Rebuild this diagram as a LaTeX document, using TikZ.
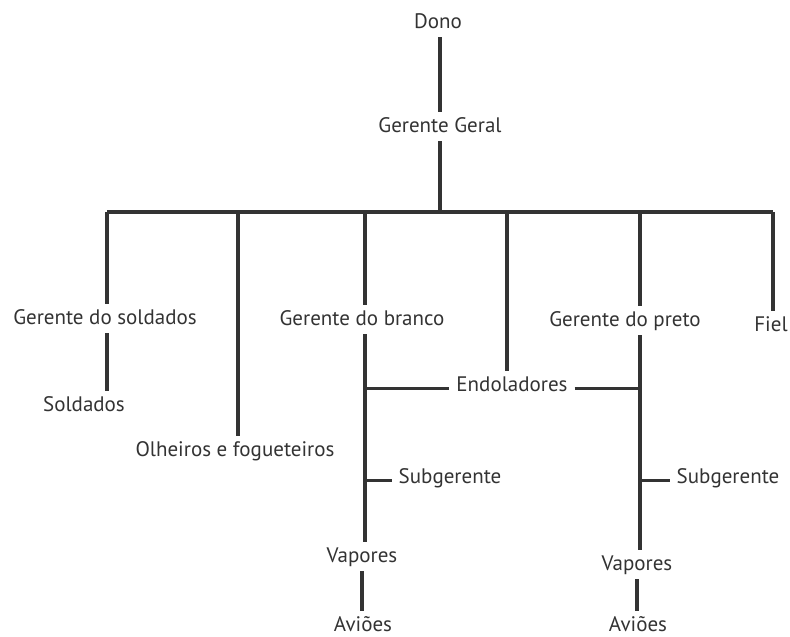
\documentclass[tikz,border=0pt]{standalone}
\usepackage{fontspec}
\setmainfont{PT Sans}
\definecolor{ink}{HTML}{333333}

\begin{document}
\begin{tikzpicture}[x=1pt,y=-1pt,
    lbl/.style={anchor=base,text=ink,font=\fontsize{21}{25}\selectfont,
        text height=15pt,text depth=4pt,inner ysep=5pt,inner xsep=7pt},
    wire/.style={draw=ink,line width=3.6pt}]
                \useasboundingbox (0,0) rectangle (790,637);
                \node[lbl] (dono) at (438,28) {Dono};
                \node[lbl] (geral) at (440,132) {Gerente Geral};
                \node[lbl] (gsold) at (105,324) {Gerente do soldados};
                \node[lbl] (sold) at (84,411) {Soldados};
                \node[lbl] (olh) at (235,456) {Olheiros e fogueteiros};
                \node[lbl] (gbranco) at (362,325) {Gerente do branco};
                \node[lbl] (endol) at (512,391) {Endoladores};
                \node[lbl] (gpreto) at (625,326) {Gerente do preto};
                \node[lbl] (fiel) at (771,331) {Fiel};
                \node[lbl] (sub1) at (450,483) {Subgerente};
                \node[lbl] (sub2) at (728,483) {Subgerente};
                \node[lbl] (vap1) at (362,562) {Vapores};
                \node[lbl] (vap2) at (637,570) {Vapores};
                \node[lbl] (av1) at (363,631) {Aviões};
                \node[lbl] (av2) at (638,631) {Aviões};
                \coordinate (bSold) at (107,212);
                \coordinate (bOlh) at (238,212);
                \coordinate (bBranco) at (365,212);
                \coordinate (bEndol) at (507,212);
                \coordinate (bPreto) at (640,212);
                \coordinate (bFiel) at (773,212);
                \draw[wire] (geral.north |- dono.south) -- (geral.north);
                \draw[wire] (geral.south) -- (geral.south |- bSold);
                \draw[wire] (bSold) -- (bFiel);
                \draw[wire] (bSold) -- (bSold |- gsold.north);
                \draw[wire] (bOlh) -- (bOlh |- olh.north);
                \draw[wire] (bBranco) -- (bBranco |- gbranco.north);
                \draw[wire] (bEndol) -- (bEndol |- endol.north);
                \draw[wire] (bPreto) -- (bPreto |- gpreto.north);
                \draw[wire] (bFiel) -- (bFiel |- fiel.north);
                \draw[wire] (bSold |- gsold.south) -- (bSold |- sold.north);
                \draw[wire] (bBranco |- gbranco.south) -- (bBranco |- vap1.north);
                \draw[wire] (bPreto |- gpreto.south) -- (bPreto |- vap2.north);
                \draw[wire] (bBranco |- endol.mid west) -- (endol.mid west);
                \draw[wire] (endol.mid east) -- (bPreto |- endol.mid east);
                \draw[wire] (bBranco |- sub1.mid west) -- (sub1.mid west);
                \draw[wire] (bPreto |- sub2.mid west) -- (sub2.mid west);
                \draw[wire] (vap1.south) -- (vap1.south |- av1.north);
                \draw[wire] (vap2.south) -- (vap2.south |- av2.north);
            \end{tikzpicture}
\end{document}
